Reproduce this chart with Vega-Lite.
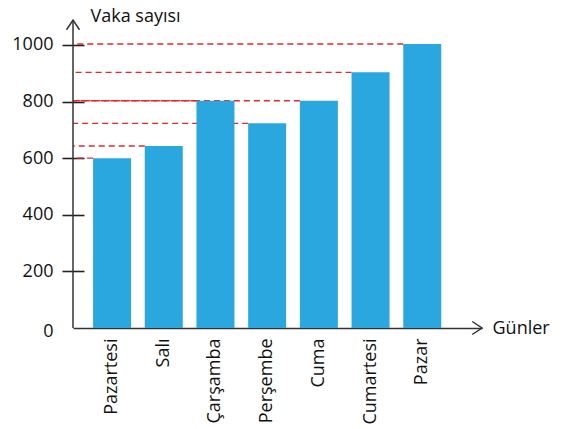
{
  "$schema": "https://vega.github.io/schema/vega-lite/v6.json",
  "width": 409,
  "height": 308,
  "autosize": {"type": "none"},
  "padding": {"left": 73, "top": 20, "right": 85, "bottom": 101},
  "background": "white",
  "config": {"view": {"stroke": null}, "font": "Open Sans"},
  "data": {
    "values": [
      {"day": "Pazartesi", "value": 600},
      {"day": "Salı", "value": 643},
      {"day": "Çarşamba", "value": 803},
      {"day": "Perşembe", "value": 723},
      {"day": "Cuma", "value": 803},
      {"day": "Cumartesi", "value": 903},
      {"day": "Pazar", "value": 1003}
    ]
  },
  "layer": [
    {
      "mark": {"type": "rule", "color": "#e8262b", "strokeWidth": 1.4, "strokeDash": [6, 4]},
      "encoding": {
        "x": {"field": "day", "type": "nominal", "sort": null, "bandPosition": 0},
        "x2": {"value": 0},
        "y": {"field": "value", "type": "quantitative"}
      }
    },
    {
      "mark": {"type": "bar", "color": "#2aa7df"},
      "encoding": {
        "x": {
          "field": "day",
          "type": "nominal",
          "sort": null,
          "scale": {"paddingInner": 0.265, "paddingOuter": 0.588, "align": 0.33},
          "axis": {
            "domain": true,
            "domainColor": "#333",
            "domainWidth": 1.5,
            "ticks": false,
            "grid": false,
            "labelAngle": -90,
            "labelFontSize": 18,
            "labelPadding": 10,
            "labelColor": "#111",
            "title": "Günler",
            "titleAngle": 0,
            "titleX": 419,
            "titleY": 0,
            "titleAlign": "left",
            "titleBaseline": "middle",
            "titleFontSize": 18,
            "titleFontWeight": "normal",
            "titleColor": "#111"
          }
        },
        "y": {
          "field": "value",
          "type": "quantitative",
          "scale": {"domain": [0, 1088], "nice": false, "zero": true},
          "axis": {
            "values": [0, 200, 400, 600, 800, 1000],
            "format": "d",
            "domain": false,
            "grid": false,
            "offset": -11,
            "tickSize": 22,
            "tickWidth": 1.6,
            "tickColor": {"condition": {"test": "datum.value === 0", "value": "transparent"}, "value": "#222"},
            "labelOffset": {"condition": {"test": "datum.value === 0", "value": 3}, "value": 0},
            "labelFontSize": 18,
            "labelPadding": 9,
            "labelColor": "#111",
            "title": "Vaka sayısı",
            "titleAngle": 0,
            "titleAlign": "left",
            "titleBaseline": "alphabetic",
            "titleX": 6,
            "titleY": 1,
            "titleFontSize": 18,
            "titleFontWeight": "normal",
            "titleColor": "#111"
          }
        }
      }
    },
    {
      "data": {"values": [{}]},
      "mark": {"type": "rule", "color": "#333", "strokeWidth": 1.5},
      "encoding": {
        "x": {"value": 0},
        "y": {"datum": 0, "type": "quantitative"},
        "y2": {"datum": 1088}
      }
    },
    {
      "data": {"values": [{}]},
      "mark": {"type": "point", "shape": "M-1,1.5L0,0L1,1.5", "size": 169, "filled": false, "stroke": "#333", "strokeWidth": 1.5, "opacity": 1},
      "encoding": {
        "x": {"value": 0},
        "y": {"datum": 1088, "type": "quantitative"}
      }
    },
    {
      "data": {"values": [{}]},
      "mark": {"type": "point", "shape": "M-1.5,-1L0,0L-1.5,1", "size": 169, "filled": false, "stroke": "#333", "strokeWidth": 1.5, "opacity": 1},
      "encoding": {
        "x": {"value": {"expr": "width"}},
        "y": {"datum": 0, "type": "quantitative"}
      }
    }
  ]
}
